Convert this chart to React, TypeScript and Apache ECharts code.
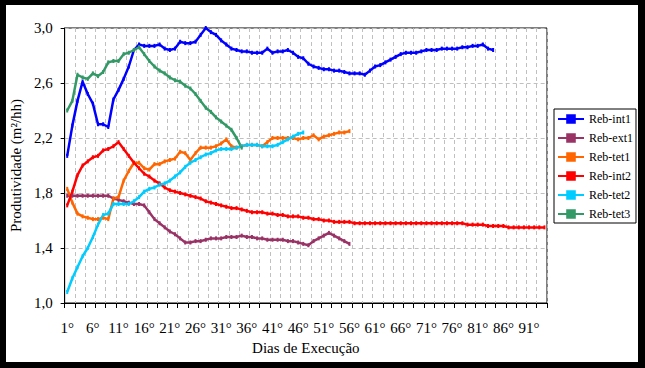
import React, { useEffect, useRef } from "react";
import * as echarts from "echarts";

const dayCount = 94;
const categories: string[] = [];
for (let i = 1; i <= dayCount; i++) categories.push(`${i}°`);

const seriesNames = ["Reb-int1", "Reb-ext1", "Reb-tet1", "Reb-int2", "Reb-tet2", "Reb-tet3"];
const seriesColors = ["#0000FF", "#993366", "#FF6600", "#FF0000", "#00CCFF", "#339966"];

const rebInt1 = [
  2.07, 2.29, 2.47, 2.61, 2.52, 2.45, 2.30, 2.30, 2.28, 2.48,
  2.55, 2.63, 2.72, 2.84, 2.88, 2.87, 2.87, 2.87, 2.88, 2.85,
  2.84, 2.85, 2.90, 2.89, 2.89, 2.90, 2.95, 3.00, 2.97, 2.95,
  2.91, 2.88, 2.85, 2.84, 2.83, 2.83, 2.82, 2.82, 2.82, 2.85,
  2.82, 2.83, 2.83, 2.84, 2.82, 2.79, 2.78, 2.74, 2.72, 2.71,
  2.70, 2.70, 2.69, 2.69, 2.68, 2.67, 2.67, 2.67, 2.66, 2.69,
  2.72, 2.73, 2.75, 2.77, 2.79, 2.81, 2.82, 2.82, 2.82, 2.83,
  2.84, 2.84, 2.84, 2.85, 2.85, 2.85, 2.85, 2.86, 2.86, 2.87,
  2.87, 2.88, 2.85, 2.84,
];

const rebExt1 = [
  1.78, 1.78, 1.78, 1.78, 1.78, 1.78, 1.78, 1.78, 1.78, 1.76,
  1.75, 1.74, 1.73, 1.72, 1.72, 1.71, 1.66, 1.61, 1.58, 1.55,
  1.52, 1.50, 1.47, 1.44, 1.44, 1.45, 1.45, 1.46, 1.47, 1.47,
  1.47, 1.48, 1.48, 1.48, 1.49, 1.48, 1.48, 1.47, 1.47, 1.46,
  1.46, 1.46, 1.46, 1.45, 1.45, 1.44, 1.43, 1.42, 1.45, 1.47,
  1.49, 1.51, 1.49, 1.47, 1.45, 1.43,
];

const rebTet1 = [
  1.83, 1.73, 1.65, 1.63, 1.62, 1.61, 1.61, 1.62, 1.61, 1.76,
  1.77, 1.89, 1.96, 2.02, 2.02, 1.98, 1.97, 2.01, 2.01, 2.03,
  2.04, 2.05, 2.10, 2.09, 2.04, 2.09, 2.13, 2.13, 2.13, 2.14,
  2.16, 2.19, 2.14, 2.13, 2.14, 2.15, 2.15, 2.15, 2.14, 2.17,
  2.20, 2.20, 2.20, 2.20, 2.20, 2.19, 2.20, 2.20, 2.22, 2.19,
  2.21, 2.22, 2.23, 2.24, 2.24, 2.25,
];

const rebInt2 = [
  1.71, 1.81, 1.93, 2.00, 2.03, 2.06, 2.07, 2.11, 2.12, 2.14,
  2.17, 2.12, 2.07, 2.02, 1.98, 1.94, 1.92, 1.89, 1.87, 1.84,
  1.82, 1.81, 1.80, 1.79, 1.78, 1.77, 1.76, 1.74, 1.73, 1.72,
  1.71, 1.70, 1.69, 1.69, 1.68, 1.67, 1.66, 1.66, 1.66, 1.65,
  1.65, 1.64, 1.64, 1.63, 1.63, 1.63, 1.62, 1.62, 1.61, 1.61,
  1.60, 1.60, 1.59, 1.59, 1.59, 1.59, 1.58, 1.58, 1.58, 1.58,
  1.58, 1.58, 1.58, 1.58, 1.58, 1.58, 1.58, 1.58, 1.58, 1.58,
  1.58, 1.58, 1.58, 1.58, 1.58, 1.58, 1.58, 1.58, 1.57, 1.57,
  1.57, 1.57, 1.56, 1.56, 1.56, 1.56, 1.55, 1.55, 1.55, 1.55,
  1.55, 1.55, 1.55, 1.55,
];

const rebTet2 = [
  1.08, 1.18, 1.26, 1.34, 1.40, 1.48, 1.57, 1.64, 1.65, 1.72,
  1.72, 1.72, 1.72, 1.74, 1.77, 1.81, 1.83, 1.84, 1.86, 1.87,
  1.89, 1.92, 1.95, 1.99, 2.02, 2.04, 2.06, 2.08, 2.09, 2.11,
  2.12, 2.12, 2.12, 2.13, 2.14, 2.15, 2.15, 2.15, 2.14, 2.14,
  2.14, 2.15, 2.17, 2.19, 2.21, 2.23, 2.24,
];

const rebTet3 = [
  2.40, 2.47, 2.66, 2.64, 2.63, 2.67, 2.65, 2.68, 2.75, 2.76,
  2.76, 2.81, 2.82, 2.84, 2.86, 2.81, 2.76, 2.72, 2.69, 2.67,
  2.64, 2.62, 2.61, 2.58, 2.56, 2.52, 2.47, 2.42, 2.39, 2.35,
  2.32, 2.29, 2.26, 2.20, 2.13,
];

const seriesData = [rebInt1, rebExt1, rebTet1, rebInt2, rebTet2, rebTet3];

const FONT = "serif";

export default function App() {
  const ref = useRef<HTMLDivElement>(null);

  useEffect(() => {
    if (!ref.current) return;
    const chart = echarts.init(ref.current, null, { renderer: "svg" });
    const dashed = { color: "#c0c0c0", width: 1, type: [4, 3] as number[] };
    chart.setOption({
      animation: false,
      backgroundColor: "transparent",
      textStyle: { fontFamily: FONT, color: "#000" },
      grid: {
        left: 62,
        right: 98,
        top: 28,
        bottom: 65,
        show: true,
        borderColor: "#000",
        borderWidth: 1,
        backgroundColor: "transparent",
      },
      legend: {
        orient: "vertical",
        left: 554,
        top: 109,
        itemWidth: 26,
        itemHeight: 12,
        itemGap: 7,
        padding: [4, 3, 3, 3],
        backgroundColor: "#fff",
        borderColor: "#000",
        borderWidth: 1,
        borderRadius: 0,
        textStyle: { fontFamily: FONT, fontSize: 12, color: "#000" },
        data: seriesNames,
      },
      xAxis: {
        type: "category",
        data: categories,
        boundaryGap: true,
        name: "Dias de Execução",
        nameLocation: "middle",
        nameGap: 37,
        nameTextStyle: { fontFamily: FONT, fontSize: 15, color: "#000" },
        axisLine: { show: true, lineStyle: { color: "#000", width: 1 } },
        axisTick: { show: true, interval: 1, length: 5, lineStyle: { color: "#000" } },
        axisLabel: {
          interval: 4,
          margin: 17,
          fontFamily: FONT,
          fontSize: 15,
          color: "#000",
        },
        splitLine: { show: true, interval: 1, lineStyle: dashed },
      },
      yAxis: {
        type: "value",
        min: 1.0,
        max: 3.0,
        interval: 0.4,
        name: "Produtividade (m²/hh)",
        nameLocation: "middle",
        nameGap: 35,
        nameTextStyle: { fontFamily: FONT, fontSize: 15, color: "#000" },
        axisLine: { show: true, lineStyle: { color: "#000", width: 1 } },
        axisTick: { show: true, length: 4, lineStyle: { color: "#000" } },
        axisLabel: {
          margin: 12,
          fontFamily: FONT,
          fontSize: 15,
          color: "#000",
          formatter: (v: number) => v.toFixed(1).replace(".", ","),
        },
        splitLine: { show: true, lineStyle: dashed },
      },
      series: seriesNames.map((name, i) => ({
        name,
        type: "line",
        data: seriesData[i],
        color: seriesColors[i],
        symbol: "rect",
        symbolSize: [2, 4],
        showSymbol: true,
        showAllSymbol: true,
        lineStyle: { width: 2.5, color: seriesColors[i] },
        itemStyle: { color: seriesColors[i] },
      })),
    });
    return () => chart.dispose();
  }, []);

  return (
    <div style={{ position: "fixed", left: 0, top: 0, width: 645, height: 368, background: "#000" }}>
      <div style={{ position: "absolute", left: 6, top: 5, width: 632, height: 357, background: "#fff" }} />
      <div ref={ref} style={{ position: "absolute", left: 0, top: 0, width: 645, height: 368 }} />
    </div>
  );
}
